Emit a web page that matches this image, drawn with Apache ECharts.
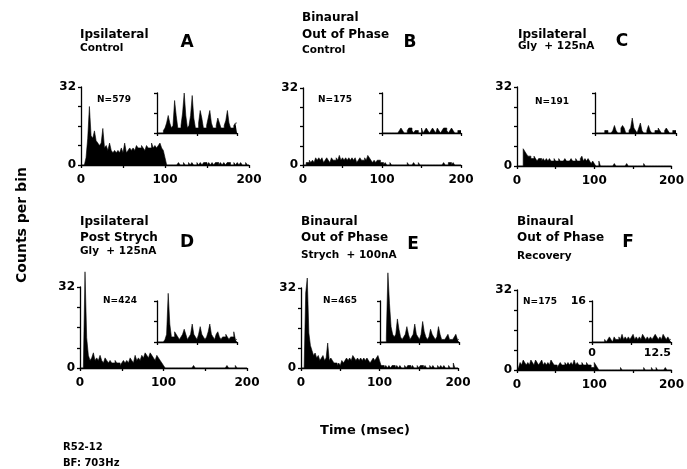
<!DOCTYPE html>
<html>
<head>
<meta charset="utf-8">
<script src="https://cdn.jsdelivr.net/npm/echarts@6/dist/echarts.min.js"></script>
<style>html,body{margin:0;padding:0;background:#fff;}#c{width:687px;height:469px;}</style>
</head>
<body>
<div id="c"></div>
<script>
// ---- data ----
const mainTickLabels = [0, 100, 200];
const yTickLabels = [0, 32];
const insetTickLabelsX = [0, 12.5];
const insetTickLabelsY = [16];
const panelLetters = ['A', 'B', 'C', 'D', 'E', 'F'];
const panelTitles = [
  [['Ipsilateral', 12], ['Control', 10.5]],
  [['Binaural', 12], ['Out of Phase', 12], ['Control', 10.5]],
  [['Ipsilateral', 12], ['Gly  + 125nA', 10.5]],
  [['Ipsilateral', 12], ['Post Strych', 12], ['Gly  + 125nA', 10.5]],
  [['Binaural', 12], ['Out of Phase', 12], ['Strych  + 100nA', 10.5]],
  [['Binaural', 12], ['Out of Phase', 12], ['Recovery', 10.5]]
];
const nLabels = ['N=579', 'N=175', 'N=191', 'N=424', 'N=465', 'N=175'];

// main histograms: 2 ms bins, 0-200 ms
const mainA = [0,0,0,3,11,24,12,11,14,10, 9,8,9,15,7,8,6,9,6,5, 6,5,6,5,7,5,9,5,6,7, 6,7,6,8,7,7,8,7,6,8, 7,7,9,7,8,7,8,9,7,6,
  3,0,0,0,0,0,0,0,1,0, 0,1,0,0,1,0,1,0,0,1, 0,1,0,1,1,0,1,0,1,0, 1,1,0,1,0,1,0,1,1,0, 0,1,0,1,0,1,0,0,1,0];
const mainB = [0,0,1,1,2,1,2,1,3,2, 3,2,3,1,2,3,2,1,3,2, 2,3,2,4,2,3,2,3,2,3, 2,3,2,3,1,2,3,2,2,3, 2,4,3,2,1,2,1,2,2,1,
  1,0,1,0,0,1,0,0,0,0, 0,0,0,0,0,0,1,0,0,0, 1,0,0,1,0,0,0,0,0,0, 0,0,0,0,0,0,0,0,0,1, 0,0,1,1,0,1,0,0,0,0];
const mainC = [0,0,0,0,7,6,5,4,4,3, 3,4,3,2,3,3,2,3,2,3, 2,3,2,2,3,2,2,3,2,2, 2,3,2,2,2,3,2,2,3,2, 2,3,4,2,3,2,3,2,1,2,
  1,0,0,2,0,0,0,0,0,0, 0,0,0,1,0,0,0,0,0,0, 0,1,0,0,0,0,0,0,0,0, 0,0,1,0,0,0,0,0,0,0, 0,0,0,0,0,0,0,0,0,0];
const mainD = [0,0,0,38,12,5,3,4,6,3, 4,3,5,3,2,4,3,2,3,2, 2,3,2,2,1,2,3,2,3,2, 4,3,2,5,3,4,3,5,4,6, 5,4,6,5,4,3,5,4,3,2,
  1,0,0,0,0,0,0,0,0,0, 0,0,0,0,0,0,0,0,1,0, 0,0,0,0,0,0,0,0,0,0, 0,0,0,0,0,0,0,0,1,0, 0,0,0,1,0,0,0,0,0,0];
const mainE = [0,0,0,30,36,14,9,7,5,6, 4,5,3,4,5,3,4,10,3,4, 3,2,2,1,2,1,3,2,3,4, 3,4,3,5,4,3,4,3,4,3, 4,3,4,3,2,3,4,3,4,5,
  3,1,1,0,1,0,1,0,1,1, 0,1,0,1,0,0,1,0,1,1, 0,1,0,0,1,0,1,1,0,1, 0,0,1,0,1,0,0,1,0,1, 0,1,0,0,1,0,0,2,0,0];
const mainF = [0,1,3,2,4,3,2,3,2,4, 3,2,4,3,2,3,4,2,3,2, 3,2,4,3,2,2,1,2,3,2, 2,3,2,3,2,3,2,4,2,3, 2,2,3,2,2,3,2,2,1,1,
  3,2,1,0,0,0,0,0,0,0, 0,0,0,0,0,0,0,1,0,0, 0,0,0,0,0,0,0,0,0,0, 0,0,1,0,0,0,0,1,0,0, 1,0,0,0,0,0,1,0,0,0];

// insets: 0.25 ms bins, 0-12.5 ms
const insetA = [0,0,0,0,1,2,4,7,4,2, 3,13,7,2,2,3,8,16,7,2, 3,7,15,6,2,2,4,9,6,2, 2,3,6,9,4,2,2,3,6,4, 2,2,3,5,9,4,2,2,3,4];
const insetB = [0,0,0,0,0,0,0,0,0,0, 0,1,2,1,0,0,1,2,2,1, 0,1,1,0,0,2,0,1,2,1, 0,1,2,1,0,2,1,0,1,2, 2,1,0,1,2,1,0,0,1,1];
const insetC = [0,0,0,0,0,0,1,1,0,0, 0,1,3,1,0,0,2,3,2,0, 0,1,2,6,2,1,0,2,4,1, 0,0,1,3,1,0,0,1,1,2, 1,0,0,1,2,1,0,0,1,1];
const insetD = [0,0,0,0,0,1,3,19,7,2, 2,4,3,2,1,2,3,5,3,1, 2,3,7,3,2,1,3,6,3,2, 1,2,4,7,3,2,1,3,4,2, 1,2,2,3,2,1,2,2,4,1];
const insetE = [0,0,0,0,2,27,15,6,3,2, 3,9,5,2,1,2,3,6,3,1, 2,3,7,3,2,1,3,8,4,2, 1,2,5,3,2,1,2,6,3,1, 1,1,2,3,1,1,1,2,3,1];
const insetF = [0,0,0,0,0,0,0,0,1,0, 1,2,1,0,2,1,1,2,1,3, 1,2,1,2,1,2,3,1,2,1, 2,1,3,2,1,2,1,2,1,2, 3,2,1,2,1,3,2,1,2,1];

const mainSeries = [mainA, mainB, mainC, mainD, mainE, mainF];
const insetSeries = [insetA, insetB, insetC, insetD, insetE, insetF];

// ---- layout (pixels) ----
const mainBoxes = [
  [81, 87, 168, 78], [303, 88, 158, 77], [517, 87, 159, 79],
  [80, 287, 167, 81], [301, 288, 157, 80], [517, 290, 157, 80]
];
const insetBoxes = [
  [157, 93, 80, 40], [382, 93, 79, 40], [595, 93, 81, 40],
  [157, 301, 80, 41], [380, 301, 79, 41], [592, 301, 79, 41]
];
const titlePos = [
  [80, [35, 48]], [302, [18, 35, 50]], [518, [35, 46]],
  [80, [222, 238, 251]], [301, [222, 238, 255]], [517, [222, 238, 256]]
];
const letterPos = [[187, 43], [410, 43], [622, 42], [187, 243], [413, 245], [628, 243]];
const nPos = [[114, 100], [335, 100], [552, 102], [120, 301], [340, 301], [540, 302]];

const FONT = '"DejaVu Sans", "Liberation Sans", sans-serif';
const AX = { color: '#000', width: 1.3 };

function histData(vals, bw) {
  const d = vals.map((v, i) => [i * bw, v]);
  d.push([vals.length * bw, vals[vals.length - 1]]);
  return d;
}

const grids = [], xAxes = [], yAxes = [], series = [], graphics = [];

for (let p = 0; p < 6; p++) {
  const mb = mainBoxes[p], ib = insetBoxes[p];
  const gi = grids.length;
  grids.push({ left: mb[0], top: mb[1], width: mb[2], height: mb[3] });
  grids.push({ left: ib[0], top: ib[1], width: ib[2], height: ib[3] });

  xAxes.push({
    gridIndex: gi, type: 'value', min: 0, max: 200, interval: 50,
    axisLine: { show: true, lineStyle: AX, onZero: false },
    axisTick: { show: true, length: 3, lineStyle: AX },
    splitLine: { show: false },
    axisLabel: {
      color: '#000', fontWeight: 'bold', fontSize: 12, fontFamily: FONT, margin: 9,
      formatter: v => mainTickLabels.includes(v) ? String(v) : ''
    }
  });
  yAxes.push({
    gridIndex: gi, type: 'value', min: 0, max: 32, interval: 8,
    axisLine: { show: true, lineStyle: AX, onZero: false },
    axisTick: { show: true, length: 3, lineStyle: AX },
    splitLine: { show: false },
    axisLabel: {
      color: '#000', fontWeight: 'bold', fontSize: 12, fontFamily: FONT, margin: 5,
      formatter: v => yTickLabels.includes(v) ? String(v) : ''
    }
  });
  const showInsetLabels = (p === 5);
  xAxes.push({
    gridIndex: gi + 1, type: 'value', min: 0, max: 12.5, interval: 6.25,
    axisLine: { show: true, lineStyle: AX, onZero: false },
    axisTick: { show: true, length: 3, lineStyle: AX },
    splitLine: { show: false },
    axisLabel: {
      show: showInsetLabels, color: '#000', fontWeight: 'bold', fontSize: 11, fontFamily: FONT, margin: 6,
      alignMaxLabel: 'right',
      formatter: v => insetTickLabelsX.includes(v) ? String(v) : ''
    }
  });
  yAxes.push({
    gridIndex: gi + 1, type: 'value', min: 0, max: 16, interval: 8,
    axisLine: { show: true, lineStyle: AX, onZero: false },
    axisTick: { show: true, length: 3, lineStyle: AX },
    splitLine: { show: false },
    axisLabel: {
      show: showInsetLabels, color: '#000', fontWeight: 'bold', fontSize: 11, fontFamily: FONT, margin: 6,
      formatter: v => insetTickLabelsY.includes(v) ? String(v) : ''
    }
  });

  const common = {
    type: 'line', step: 'end', symbol: 'none', clip: false, silent: true,
    lineStyle: { color: '#000', width: 0.6 },
    areaStyle: { color: '#000', opacity: 1 }
  };
  series.push(Object.assign({}, common, { xAxisIndex: gi, yAxisIndex: gi, data: histData(mainSeries[p], 2) }));
  series.push(Object.assign({}, common, { xAxisIndex: gi + 1, yAxisIndex: gi + 1, data: histData(insetSeries[p], 0.25) }));

  // titles
  const tp = titlePos[p];
  panelTitles[p].forEach((t, k) => {
    graphics.push({ type: 'text', x: tp[0], y: tp[1][k],
      style: { text: t[0], fill: '#000', font: 'bold ' + t[1] + 'px ' + FONT, align: 'left', verticalAlign: 'middle' } });
  });
  graphics.push({ type: 'text', x: letterPos[p][0], y: letterPos[p][1],
    style: { text: panelLetters[p], fill: '#000', font: 'bold 17px ' + FONT, align: 'center', verticalAlign: 'middle' } });
  graphics.push({ type: 'text', x: nPos[p][0], y: nPos[p][1],
    style: { text: nLabels[p], fill: '#000', font: 'bold 9px ' + FONT, align: 'center', verticalAlign: 'middle' } });
}

graphics.push({ type: 'text', x: 22, y: 225, rotation: Math.PI / 2,
  style: { text: 'Counts per bin', fill: '#000', font: 'bold 14px ' + FONT, align: 'center', verticalAlign: 'middle' } });
graphics.push({ type: 'text', x: 365, y: 431,
  style: { text: 'Time (msec)', fill: '#000', font: 'bold 13px ' + FONT, align: 'center', verticalAlign: 'middle' } });
graphics.push({ type: 'text', x: 63, y: 447,
  style: { text: 'R52-12', fill: '#000', font: 'bold 10px ' + FONT, align: 'left', verticalAlign: 'middle' } });
graphics.push({ type: 'text', x: 63, y: 463,
  style: { text: 'BF: 703Hz', fill: '#000', font: 'bold 10px ' + FONT, align: 'left', verticalAlign: 'middle' } });

const chart = echarts.init(document.getElementById('c'), null, { renderer: 'canvas' });
chart.setOption({
  animation: false,
  backgroundColor: '#fff',
  grid: grids, xAxis: xAxes, yAxis: yAxes, series: series,
  graphic: graphics
});
</script>
</body>
</html>
